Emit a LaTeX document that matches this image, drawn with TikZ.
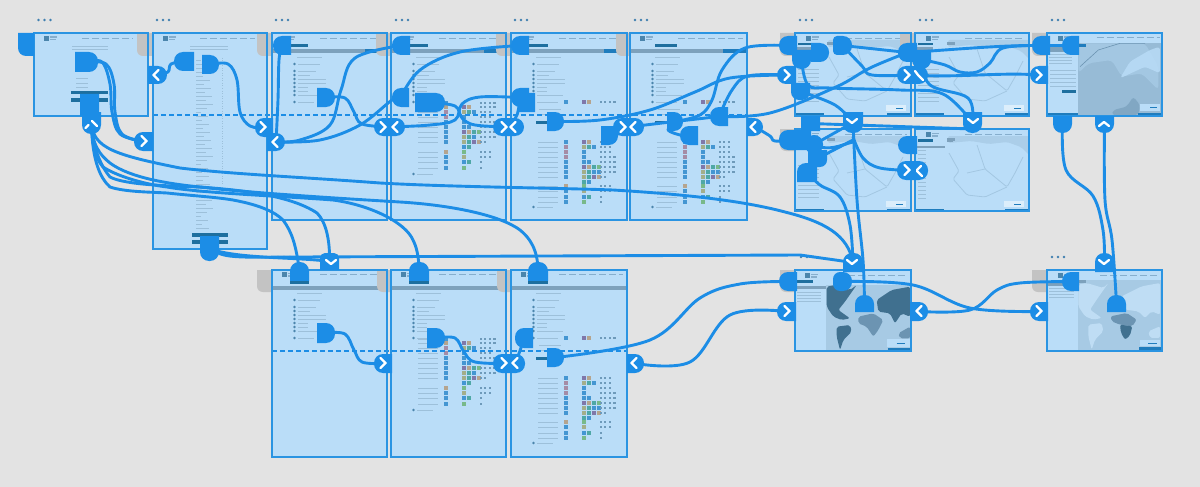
\documentclass[tikz,border=0pt]{standalone}
\definecolor{bgc}{HTML}{E3E3E3}
\definecolor{pagefill}{HTML}{BADDF8}
\definecolor{pageline}{HTML}{2A94E2}
\definecolor{flow}{HTML}{1C8DE6}
\definecolor{tabc}{HTML}{C3C3C3}
\definecolor{dots}{HTML}{3F7FB0}
\definecolor{teal}{HTML}{1E6F9F}
\definecolor{grayb}{HTML}{7DA1BC}
\definecolor{txt}{HTML}{9DC0DA}
\definecolor{navc}{HTML}{86AECD}
\definecolor{bul}{HTML}{4B85AC}
\definecolor{cP}{HTML}{7F78AA}
\definecolor{cT}{HTML}{B5A48E}
\definecolor{cG}{HTML}{4FA8A6}
\definecolor{cL}{HTML}{78B98A}
\definecolor{cB}{HTML}{4496D2}
\definecolor{cM}{HTML}{A58CA6}
\definecolor{cO}{HTML}{A3AE8A}
\definecolor{dotc}{HTML}{6E9ABA}
\definecolor{sea}{HTML}{A7CAE4}
\definecolor{landd}{HTML}{40708F}
\definecolor{landm}{HTML}{6C94B2}
\definecolor{landl}{HTML}{BFDDF4}
\definecolor{mapg}{HTML}{ABCEE9}
\definecolor{mapb}{HTML}{A3C7E2}
\definecolor{mapl}{HTML}{97BBD6}
\definecolor{barb}{HTML}{1F7CBD}
\tikzset{
  pagebox/.style={fill=pagefill,inner sep=0pt,outer sep=0pt,anchor=north west},
  pageborder/.style={draw=pageline,line width=1.5pt},
  hotspot/.style={fill=flow},
  conn/.style={draw=flow,line width=2.9pt,line cap=round,line join=round},
  fold/.style={draw=flow,line width=1.3pt,dash pattern=on 5pt off 3pt},
  chev/.style={draw=white,line width=2.3pt,line cap=round,line join=round},
  textline/.style={draw=txt,line width=.9pt},
  navline/.style={draw=navc,line width=.8pt,dash pattern=on 7pt off 3pt},
}
\newcommand\pg[5]{\pgfmathsetmacro\pgw{#4-#2}\pgfmathsetmacro\pgh{#5-#3}%
  \node[pagebox,minimum width=\pgw pt,minimum height=\pgh pt] (#1) at (#2,#3) {};}
\newcommand\pgb[1]{\draw[pageborder] (#1.north west) rectangle (#1.south east);}
\newcommand\tabshape[4]{\fill[tabc] (#1,#2) -- (#3,#2) -- (#3,#4) -- (#1+6,#4) .. controls (#1+2.5,#4) and (#1,#4-2.5) .. (#1,#4-6) -- cycle;}
\newcommand\threedots[2]{\foreach \d in {0,6,12}{\fill[dots] (#1+\d,#2) circle (1.35);}}
\newcommand\hot[9]{\fill[hotspot] ({#2+#6},#3) -- ({#4-#7},#3) .. controls ({#4-.45*#7},#3) and (#4,{#3+.45*#7}) .. (#4,{#3+#7}) -- (#4,{#5-#8}) .. controls (#4,{#5-.45*#8}) and ({#4-.45*#8},#5) .. ({#4-#8},#5) -- ({#2+#9},#5) .. controls ({#2+.45*#9},#5) and (#2,{#5-.45*#9}) .. (#2,{#5-#9}) -- (#2,{#3+#6}) .. controls (#2,{#3+.45*#6}) and ({#2+.45*#6},#3) .. ({#2+#6},#3) -- cycle;
  \coordinate (#1) at ({(#2+#4)/2},{(#3+#5)/2});}
\newcommand\hotR[5]{\hot{#1}{#2}{#3}{#4}{#5}{0}{9}{9}{0}}
\newcommand\hotL[5]{\hot{#1}{#2}{#3}{#4}{#5}{9}{0}{0}{9}}
\newcommand\hotT[5]{\hot{#1}{#2}{#3}{#4}{#5}{9}{9}{0}{0}}
\newcommand\hotB[5]{\hot{#1}{#2}{#3}{#4}{#5}{0}{0}{9}{9}}
\newcommand\hotA[5]{\hot{#1}{#2}{#3}{#4}{#5}{9}{9}{9}{9}}
\newcommand\chR[2]{\draw[chev] (#1-2.6,#2-5) -- (#1+2.6,#2) -- (#1-2.6,#2+5);}
\newcommand\chL[2]{\draw[chev] (#1+2.6,#2-5) -- (#1-2.6,#2) -- (#1+2.6,#2+5);}
\newcommand\chD[2]{\draw[chev] (#1-5,#2-2) -- (#1,#2+2) -- (#1+5,#2-2);}
\newcommand\chU[2]{\draw[chev] (#1-5,#2+2) -- (#1,#2-2) -- (#1+5,#2+2);}
\newcommand\cn[1]{\draw[conn] plot[smooth,tension=.6] coordinates {#1};}
\newcommand\logo[2]{\fill[bul] (#1+10,#2+3) rectangle (#1+15,#2+8);\fill[navc] (#1+16,#2+3.5) rectangle (#1+23,#2+5);\fill[navc] (#1+16,#2+6) rectangle (#1+22,#2+7.5);}
\newcommand\nav[3]{\draw[navline] (#1,#3+5) -- (#2,#3+5);}
\newcommand\listchrome[4]{% x, y0, width, upper page flag
  \logo{#1}{#2}\nav{#1+48}{#1+#3-4}{#2}
  \fill[grayb] (#1,#2+16.5) rectangle (#1+#3,#2+20.5);
  \ifnum#4=1 \fill[barb] (#1+93,#2+16.5) rectangle (#1+#3-1,#2+20.5);\fi
  \draw[textline] (#1+25,#2+24) -- (#1+50,#2+24);
  \foreach \ry/\rw in {31/22,38/18,42/12,46/28,50/28,54/10,58/10,62/26,69/16}{
    \fill[bul] (#1+22.5,#2+\ry) circle (1.4);
    \draw[textline] (#1+26,#2+\ry) -- (#1+26+\rw,#2+\ry);}}
\newcommand\trow[5]{\fill[#3] (#1+52.5,#2-2) rectangle (#1+56.5,#2+2);
  \foreach \c [count=\i from 0] in {#4}{\fill[fill=\c] (#1+70.5+5*\i,#2-2) rectangle (#1+74.7+5*\i,#2+2);}
  \foreach \k in {1,...,#5}{\fill[dotc] (#1+84+4.6*\k,#2-1.1) rectangle (#1+86.2+4.6*\k,#2+1.1);}
  \draw[textline,line width=.8pt] (#1+27,#2) -- (#1+47,#2);}
\newcommand\tableA[2]{
  \trow{#1}{#2+70}{cB}{none}{4}
  \trow{#1}{#2+74}{cT}{cP,cT}{4}
  \trow{#1}{#2+79}{cM}{cO,cG,cB}{3}
  \trow{#1}{#2+84}{cM}{cB}{3}
  \trow{#1}{#2+89}{cB}{cB}{4}
  \trow{#1}{#2+94}{cB}{cB,cB}{4}
  \trow{#1}{#2+99}{cB}{cP,cT,cG,cL}{4}
  \trow{#1}{#2+104}{cB}{cO,cG,cB}{4}
  \trow{#1}{#2+109}{cB}{cO,cG,cP,cT}{2}
  \fill[cB] (#1+70.5,#2+112) rectangle (#1+74.7,#2+116);\fill[cG] (#1+75.5,#2+112) rectangle (#1+79.7,#2+116);
  \trow{#1}{#2+119}{cT}{cL}{3}
  \trow{#1}{#2+124}{cB}{cO}{3}
  \trow{#1}{#2+129}{cB}{cB,cG}{1}
  \trow{#1}{#2+135}{cB}{cL}{1}
  \fill[bul] (#1+22.5,#2+141) circle (1.4);\draw[textline] (#1+26,#2+141) -- (#1+42,#2+141);}
\newcommand\tableB[2]{
  \trow{#1}{#2+69}{cB}{cP,cT}{4}
  \fill[teal] (#1+25,#2+88) rectangle (#1+36,#2+91);
  \draw[textline] (#1+28,#2+76) -- (#1+50,#2+76);\draw[textline] (#1+28,#2+81) -- (#1+50,#2+81);
  \trow{#1}{#2+109}{cB}{cP,cT}{3}
  \trow{#1}{#2+114}{cM}{cO,cG,cB}{3}
  \trow{#1}{#2+119}{cM}{cB}{3}
  \trow{#1}{#2+124}{cM}{cB}{4}
  \trow{#1}{#2+129}{cB}{cB,cB}{4}
  \trow{#1}{#2+134}{cB}{cP,cT,cG,cL}{4}
  \trow{#1}{#2+139}{cB}{cO,cG,cB,cB}{4}
  \trow{#1}{#2+144}{cB}{cO,cG,cP,cT}{2}
  \fill[cG] (#1+70.5,#2+147) rectangle (#1+74.7,#2+151);\fill[cB] (#1+75.5,#2+147) rectangle (#1+79.7,#2+151);
  \trow{#1}{#2+153}{cT}{cL}{3}
  \trow{#1}{#2+158}{cB}{cO}{3}
  \trow{#1}{#2+164}{cB}{cB,cG}{1}
  \trow{#1}{#2+169}{cB}{cL}{1}
  \fill[bul] (#1+22.5,#2+174) circle (1.4);\draw[textline] (#1+26,#2+174) -- (#1+42,#2+174);}
\newcommand\mapbits[3]{%
  \fill[barb] (#1,#2+80) rectangle (#1+29,#2+83);
  \fill[barb] (#1+#3-24,#2+80) rectangle (#1+#3,#2+83);
  \fill[white,opacity=.5] (#1+#3-25,#2+71.5) rectangle (#1+#3-5,#2+78);
  \draw[barb,line width=.8pt] (#1+#3-15,#2+75) -- (#1+#3-8,#2+75);
  \logo{#1+1}{#2}\nav{#1+50}{#1+#3-4}{#2}}
\newcommand\algmap[3]{%
  \fill[mapg,rounded corners=2pt] (#1+33,#2+7) -- (#1+#3,#2+7) -- (#1+#3,#2+26) -- (#1+#3-8,#2+18) -- (#1+#3-22,#2+13) -- (#1+#3-40,#2+15) -- (#1+#3-58,#2+12) -- (#1+33,#2+14) -- cycle;
  \draw[mapb,line width=.8pt,rounded corners=1.5pt] (#1+34,#2+24) -- (#1+44,#2+42) -- (#1+38,#2+50) -- (#1+52,#2+66) -- (#1+70,#2+68) -- (#1+92,#2+58);
  \draw[mapb,line width=.8pt,rounded corners=1.5pt] (#1+62,#2+16) -- (#1+70,#2+40) -- (#1+92,#2+58) -- (#1+100,#2+44) -- (#1+108,#2+28);
  \draw[mapb,line width=.8pt] (#1+70,#2+40) -- (#1+52,#2+44);
  \foreach \q in {0,4,...,32}{\draw[textline,line width=.7pt] (#1+3,#2+36+\q) -- (#1+24,#2+36+\q);}
  \fill[teal] (#1+3,#2+10) rectangle (#1+18,#2+12.5);
  \fill[grayb] (#1+2,#2+14.5) rectangle (#1+18,#2+18);
  \fill[grayb] (#1+32,#2+9) rectangle (#1+40,#2+12);}
\begin{document}
\begin{tikzpicture}[x=1pt,y=-1pt]
\useasboundingbox (0,0) rectangle (1200,487);
\fill[bgc] (0,0) rectangle (1200,487);
\threedots{38.5}{20}\threedots{157}{20}\threedots{276}{20}\threedots{396}{20}\threedots{515}{20}\threedots{635}{20}
\threedots{800}{20}\threedots{920}{20}\threedots{1052}{20}
\threedots{278}{257}\threedots{801}{257}\threedots{1052}{257}
\pg{p1}{34}{33}{148}{116}\pg{p2}{153}{33}{267}{249}\pg{p3}{272}{33}{387}{220}
\pg{p4}{391}{33}{506}{220}\pg{p5}{511}{33}{627}{220}\pg{p6}{630}{33}{747}{220}
\pg{p7}{795}{33}{911}{116}\pg{p8}{915}{33}{1029}{116}\pg{p9}{1047}{33}{1162}{116}
\pg{p10}{795}{129}{911}{211}\pg{p11}{915}{129}{1029}{211}
\pg{p12}{272}{270}{387}{457}\pg{p13}{391}{270}{506}{457}\pg{p14}{511}{270}{627}{457}
\pg{p15}{795}{270}{911}{351}\pg{p16}{1047}{270}{1162}{351}
% page 1
\logo{34}{33}\nav{82}{133}{33}
\foreach \q in {46,49}{\draw[textline] (72,\q) -- (108,\q);}
\foreach \q in {78,83,87}{\draw[textline] (76,\q) -- (88,\q);}
\fill[teal] (71,91) rectangle (108,94.5);\fill[teal] (71,98) rectangle (108,101.5);
% page 2
\logo{153}{33}\nav{200}{255}{33}
\foreach \q in {46,49}{\draw[textline] (190,\q) -- (228,\q);}
\foreach \i in {0,...,42}{\pgfmathsetmacro\yy{60+4*\i}\pgfmathsetmacro\ww{5+mod(\i*7,13)}
  \draw[textline] (196,\yy) -- (196+\ww,\yy);}
\draw[txt,line width=.5pt,dash pattern=on 1pt off 1.5pt] (222,58) -- (222,185);
\fill[teal] (192,233) rectangle (228,236.5);\fill[teal] (192,240) rectangle (228,243.5);
% list pages
\listchrome{272}{33}{115}{1}\listchrome{391}{33}{115}{1}\listchrome{511}{33}{116}{1}\listchrome{630}{33}{117}{1}
\listchrome{272}{269}{115}{0}\listchrome{391}{269}{115}{0}\listchrome{511}{269}{116}{0}
\fill[teal] (285,44) rectangle (308,47);\fill[teal] (404,44) rectangle (428,47);\fill[teal] (524,44) rectangle (548,47);\fill[teal] (655,44) rectangle (677,47);
\tableA{391}{33}\tableB{511}{33}\tableB{630}{33}\tableA{391}{269}\tableB{511}{269}
% maps 7,8,10,11
\algmap{795}{33}{116}\algmap{915}{33}{114}\algmap{795}{129}{116}\algmap{915}{129}{114}
\mapbits{795}{33}{116}\mapbits{915}{33}{114}\mapbits{795}{129}{116}\mapbits{915}{129}{114}
\fill[pagefill] (916,143) rectangle (945,198);
\fill[grayb] (917,146) rectangle (945,148);
\fill[teal] (919,139) rectangle (933,142);\fill[grayb] (947,139) rectangle (953,142);
\foreach \q in {150,154,...,198}{\draw[textline,line width=.7pt] (918,\q) -- (926,\q);}
% map 9
\fill[mapl] (1078,43) rectangle (1162,116);
\begin{scope}[shift={(1045,30)},x=.3333pt,y=-.3333pt]
\fill[mapb,rounded corners=4pt] (100,40) -- (300,40) -- (340,110) -- (340,180) -- (290,130) -- (230,140) -- (200,90) -- (130,100) -- (100,130) -- cycle;
\fill[pagefill,opacity=.8,rounded corners=3pt] (225,145) -- (255,95) -- (315,60) -- (345,50) -- (345,130) -- (300,110) -- cycle;
\fill[landm,opacity=.5,rounded corners=3pt] (200,255) -- (205,240) -- (245,230) -- (265,200) -- (285,225) -- (280,255) -- cycle;
\fill[pagefill] (285,222) rectangle (345,242);
\draw[barb,line width=.8pt] (315,232) -- (335,232);
\draw[navline] (155,22) -- (345,22);
\draw[landm,line width=.6pt] (105,110) -- (160,60) -- (225,40) -- (300,40);
\end{scope}
\fill[barb] (1048,113) rectangle (1078,116);\fill[barb] (1138,113) rectangle (1162,116);
\logo{1048}{33}\fill[barb] (1078,44) rectangle (1086,47);
\fill[grayb] (1049,47) rectangle (1072,52);
\foreach \q in {54,57,60,63}{\draw[textline,line width=.7pt] (1049,\q) -- (1072,\q);}
\foreach \q in {70,74,78,82,86}{\draw[textline,line width=.6pt] (1050,\q) -- (1076,\q);}
\fill[teal] (1062,90) rectangle (1076,93);
% map 15
\fill[sea] (826,285) rectangle (910,350);
\fill[grayb] (795,286) rectangle (826,289);
\logo{795}{270}\nav{848}{908}{270}\fill[teal] (797,279.5) rectangle (813,282.5);
\foreach \q in {292,295,298,301}{\draw[textline,line width=.7pt] (797,\q) -- (821,\q);}
\begin{scope}[shift={(795,270)},x=.3333pt,y=-.3333pt]
\fill[landd,rounded corners=2pt] (95,50) -- (120,45) -- (165,60) -- (185,45) -- (150,95) -- (130,120) -- (165,145) -- (140,150) -- (115,140) -- (95,110) -- cycle;
\fill[landd,rounded corners=2pt] (245,90) -- (290,60) -- (345,50) -- (345,140) -- (320,130) -- (300,160) -- (285,130) -- (250,125) -- cycle;
\fill[landm,rounded corners=2pt] (190,140) -- (235,130) -- (265,150) -- (250,180) -- (235,200) -- (215,170) -- (190,160) -- cycle;
\fill[landd,rounded corners=2pt] (125,170) -- (165,165) -- (170,185) -- (145,210) -- (135,240) -- (125,200) -- cycle;
\fill[landm,rounded corners=2pt] (310,190) -- (345,170) -- (345,205) -- (315,205) -- cycle;
\fill[pagefill] (275,208) rectangle (345,232);
\draw[barb,line width=.8pt] (305,220) -- (330,220);
\fill[barb] (278,233) rectangle (345,243);
\end{scope}
% map 16
\fill[sea] (1078,280) rectangle (1161,350);
\fill[grayb] (1047,283) rectangle (1078,286);
\logo{1048}{270}\nav{1100}{1160}{270}\fill[grayb] (1079,279.5) rectangle (1086,282.5);
\foreach \q in {288,291,294,297}{\draw[textline,line width=.7pt] (1049,\q) -- (1074,\q);}
\begin{scope}[shift={(1045,268)},x=.3333pt,y=-.3333pt]
\fill[landl,rounded corners=2pt] (100,50) -- (125,45) -- (175,60) -- (190,45) -- (155,95) -- (135,125) -- (170,150) -- (145,155) -- (120,145) -- (100,115) -- cycle;
\fill[landl,rounded corners=2pt] (230,85) -- (290,55) -- (345,45) -- (345,140) -- (320,130) -- (300,150) -- (280,130) -- (240,125) -- cycle;
\fill[landm,rounded corners=2pt] (197,145) -- (245,135) -- (275,155) -- (262,175) -- (225,170) -- (200,160) -- cycle;
\fill[landd,rounded corners=2pt] (225,170) -- (262,175) -- (255,203) -- (240,215) -- (228,195) -- cycle;
\fill[landl,rounded corners=2pt] (130,170) -- (170,165) -- (175,190) -- (150,215) -- (140,245) -- (130,205) -- cycle;
\fill[landl,rounded corners=2pt] (310,190) -- (345,175) -- (345,210) -- (315,210) -- cycle;
\fill[pagefill] (285,215) rectangle (345,235);
\draw[barb,line width=.8pt] (310,225) -- (335,225);
\fill[barb] (282,238) rectangle (347,248);
\end{scope}
% tabs lying over the page corners
\tabshape{137}{33}{153}{56}\tabshape{257}{33}{272}{56}\tabshape{376}{33}{391}{56}
\tabshape{496}{33}{511}{56}\tabshape{616}{33}{630}{56}\tabshape{780}{33}{795}{56}
\tabshape{900}{33}{915}{56}\tabshape{1032}{33}{1047}{56}\tabshape{780}{129}{795}{151}
\tabshape{257}{270}{272}{292}\tabshape{377}{270}{391}{292}\tabshape{497}{270}{511}{292}
\tabshape{780}{270}{795}{292}\tabshape{1032}{270}{1047}{292}
% fold lines
\draw[fold] (153,115) -- (747,115);
\draw[fold] (272,351) -- (627,351);
\pgb{p1}\pgb{p2}\pgb{p3}\pgb{p4}\pgb{p5}\pgb{p6}\pgb{p7}\pgb{p8}\pgb{p9}\pgb{p10}\pgb{p11}\pgb{p12}\pgb{p13}\pgb{p14}\pgb{p15}\pgb{p16}
% ---- hotspots
\hot{h0}{18}{33}{34}{56}{0}{0}{0}{8}
\hotR{h1}{75}{52}{98}{72}
\hot{h2}{80}{94}{99}{116}{0}{0}{0}{0}
\hot{b0}{82}{112}{101}{134}{0}{0}{9}{9}
\hotL{h3}{174}{52}{194}{71}
\hotR{h4}{202}{55}{219}{74}
\hot{h5}{200}{236}{219}{261}{0}{0}{9}{9}
\hotL{h6}{273}{36}{291}{55}
\hotR{h7}{317}{88}{335}{107}
\hotL{h8}{392}{36}{410}{55}
\hotL{h9}{392}{88}{409}{107}
\hotR{h10}{415}{93}{445}{112}
\hotL{h11}{511}{36}{529}{55}
\hotL{h12}{511}{88}{529}{107}
\hot{h12b}{518}{93}{535}{112}{0}{0}{0}{0}
\hotR{h13}{547}{112}{564}{131}
\hot{h14}{601}{126}{618}{145}{0}{0}{9}{0}
\hotR{h15}{667}{112}{683}{131}
\hot{h16}{680}{126}{698}{145}{9}{0}{0}{9}
\hot{h17}{710}{107}{728}{126}{9}{0}{0}{9}
\hotL{h18}{779}{36}{797}{55}
\hot{h19}{792}{50}{811}{69}{0}{0}{9}{9}
\hotR{h20}{811}{43}{829}{62}
\hot{h21}{833}{36}{852}{55}{4}{9}{9}{4}
\hot{h22}{791}{83}{810}{100}{0}{0}{8}{8}
\hotL{h23}{898}{43}{917}{62}
\hot{h24}{912}{50}{931}{69}{0}{0}{9}{9}
\hotL{h25}{1032}{36}{1050}{55}
\hotL{h26}{1062}{36}{1079}{55}
\hot{h27}{1053}{116}{1072}{133}{0}{0}{9}{9}
\hot{h28}{801}{116}{820}{131}{0}{0}{0}{0}
\hot{h29}{779}{130}{811}{150}{9}{0}{0}{9}
\hotA{h30}{805}{135}{823}{154}
\hot{h31}{808}{150}{827}{167}{0}{0}{7}{0}
\hot{h32}{797}{163}{817}{182}{9}{0}{0}{0}
\hotL{h33}{898}{136}{917}{154}
\hotT{h34}{290}{262}{309}{281}
\hotT{h35}{409}{262}{429}{281}
\hotT{h36}{528}{262}{548}{281}
\hotR{h37}{317}{323}{335}{343}
\hotR{h38}{427}{328}{445}{348}
\hotL{h39}{515}{328}{533}{348}
\hotR{h40}{547}{348}{564}{367}
\hotL{h41}{779}{272}{797}{291}
\hot{h42}{833}{272}{852}{291}{7}{9}{9}{7}
\hotT{h43}{855}{295}{874}{312}
\hotL{h44}{1062}{272}{1079}{291}
\hotT{h45}{1107}{295}{1126}{312}
\fill[teal] (290,281) rectangle (309,283.5);\fill[teal] (409,281) rectangle (429,283.5);\fill[teal] (528,281) rectangle (548,283.5);
% ---- buttons
\hotL{b1}{134}{132}{153}{151}
\hotR{b2}{148}{66}{167}{84}
\hotL{b3}{255}{118}{273}{137}
\hotR{b4}{267}{133}{285}{151}
\hotA{b5}{374}{118}{405}{136}
\hotA{b6}{493}{118}{524}{136}
\hotA{b7}{613}{118}{644}{136}
\hotR{b8}{747}{118}{763}{136}
\hotL{b9}{777}{66}{796}{84}
\hotA{b10}{897}{66}{928}{84}
\hotL{b11}{1030}{66}{1048}{84}
\hot{b12}{843}{112}{863}{133}{0}{0}{9}{9}
\hot{b13}{963}{112}{982}{133}{0}{0}{9}{9}
\hot{b14}{1095}{116}{1114}{133}{0}{0}{9}{9}
\hotA{b15}{897}{161}{928}{180}
\hotT{b16}{843}{253}{863}{272}
\hotT{b17}{1095}{253}{1114}{272}
\hotL{b18}{777}{302}{796}{321}
\hotR{b19}{910}{302}{928}{321}
\hotL{b20}{1030}{302}{1048}{321}
\hot{b21}{320}{253}{339}{270}{5}{5}{0}{0}
\hotL{b22}{374}{354}{392}{373}
\hotA{b23}{493}{354}{525}{373}
\hotR{b24}{627}{354}{644}{373}
% ---- connectors
\cn{(h1) (106,64) (114,84) (115,112) (122,134) (b1)}
\cn{(h1) (102,62) (110,84) (112,112) (120,134) (b1)}
\cn{(b2) (168,72) (171,64) (h3)}
\cn{(h4) (228,64) (237,80) (240,112) (250,126) (b3)}
\cn{(b4) (278,100) (279,60) (h6)}
\cn{(b4) (300,140) (330,125) (341,90) (355,58) (h8)}
\cn{(b4) (320,140) (360,125) (392,100) (h9)}
\cn{(h7) (345,98) (354,112) (362,124) (b5)}
\cn{(h10) (455,106) (462,118) (475,125) (b6)}
\cn{(b5) (430,125) (455,120) (462,104) (480,97) (h12)}
\cn{(h9) (420,70) (460,52) (h11)}
\cn{(h12) (517,115) (b6)}
\cn{(h13) (600,120) (650,110) (695,92) (730,78) (b9)}
\cn{(h14) (620,130) (b7)}
\cn{(b7) (h15)}
\cn{(h15) (700,115) (712,100) (722,70) (745,48) (h18)}
\cn{(h15) (h17)}
\cn{(h17) (732,90) (748,76) (b9)}
\cn{(h17) (770,113) (836,87) (870,68) (h23)}
\cn{(h15) (668,130) (680,135)}
\cn{(b8) (770,136) (775,141) (h29)}
% the fan from the first page
\draw[conn] (b0) .. controls (93,148) and (115,155) .. (180,168) .. controls (230,174) and (300,177) .. (380,183) .. controls (450,187) and (560,188) .. (613,190) .. controls (680,194) and (740,200) .. (785,212) .. controls (825,222) and (848,235) .. (b16);
\draw[conn] (b0) .. controls (92,145) and (100,155) .. (110,163) .. controls (130,178) and (170,184) .. (200,187) .. controls (250,193) and (350,199) .. (400,202) .. controls (450,205) and (500,215) .. (520,230) .. controls (530,238) and (538,250) .. (h36);
\draw[conn] (b0) .. controls (92,150) and (97,160) .. (103,167) .. controls (120,178) and (150,185) .. (167,187) .. controls (200,193) and (280,196) .. (333,200) .. controls (370,205) and (405,222) .. (413,240) .. controls (416,246) and (419,255) .. (h35);
\draw[conn] (b0) .. controls (92,145) and (100,165) .. (110,177) .. controls (125,185) and (170,186) .. (200,187) .. controls (240,190) and (290,195) .. (317,213) .. controls (326,222) and (330,240) .. (b21);
\draw[conn] (b0) .. controls (92,160) and (100,178) .. (110,187) .. controls (125,192) and (150,192) .. (167,193) .. controls (195,196) and (215,197) .. (233,200) .. controls (260,205) and (275,212) .. (283,220) .. controls (292,232) and (296,245) .. (h34);
\draw[conn] (h5) .. controls (235,259) and (300,257) .. (b21);
\draw[conn] (h5) .. controls (225,258) and (230,257.5) .. (300,257) -- (800,255) -- (b16);
\cn{(h32) (820,185) (840,197) (850,225) (b16)}
\cn{(b12) (857,200) (863,260) (h43)}
\cn{(h22) (835,105) (b12)}
\cn{(h19) (808,85) (830,88) (900,90) (943,94) (b13)}
\cn{(h24) (930,85) (968,98) (b13)}
\cn{(h24) (945,65) (960,72) (977,72) (990,63) (1003,48) (h25)}
\draw[conn] (b10) .. controls (960,78) and (1000,72) .. (b11);
\draw[conn] (h23) .. controls (950,50) and (1000,45) .. (h25);
\draw[conn] (h21) -- (h23);
\cn{(h21) (862,66) (872,75) (b10)}
\draw[conn] (h26) -- (h25);
\cn{(h27) (1066,170) (1093,196) (1103,230) (b17)}
\cn{(b14) (1105,200) (1112,240) (h45)}
\cn{(h42) (913,285) (970,308) (b20)}
\cn{(b19) (970,310) (997,290) (1020,283) (h44)}
\cn{(h40) (650,340) (700,298) (740,284) (h41)}
\cn{(b24) (690,362) (730,315) (b18)}
\cn{(h37) (345,334) (354,350) (362,362) (b22)}
\cn{(h38) (455,338) (464,352) (475,362) (b23)}
\cn{(h39) (517,358) (b23)}
\draw[conn] (h30) -- (b12);\draw[conn] (h31) -- (853,140);\draw[conn] (h30) .. controls (830,152) and (840,145) .. (853,142);
\cn{(853,137) (863,158) (880,168) (b15)}
\draw[conn] (h28) -- (973,129);
\cn{(h33) (912,150)}
% ---- chevrons
\chR{144}{141}\chL{156}{75}\chR{263}{127}\chL{275}{142}
\chR{383}{127}\chL{395}{127}\chR{504}{127}\chL{513}{127}\chR{623}{127}\chL{633}{127}\chL{753}{127}
\chR{787}{75}\chR{907}{75}\chR{1039}{75}\chU{1104}{124}
\draw[chev] (915,71) -- (918,75);\draw[chev] (918,75) -- (923,80);
\chD{852}{121}\chD{973}{121}\chD{852}{262}\chD{1104}{262}\chD{331}{262}
\chR{907}{170}
\draw[chev] (921,166) -- (917,170);\draw[chev] (917,171) -- (922,176);
\chR{787}{311}\chL{919}{311}\chR{1039}{311}\chR{383}{363}\chR{504}{363}\chL{515}{363}\chL{634}{363}
\draw[chev] (85.5,128) -- (88.5,125);\draw[chev] (92,121) -- (97,126);
\end{tikzpicture}
\end{document}
